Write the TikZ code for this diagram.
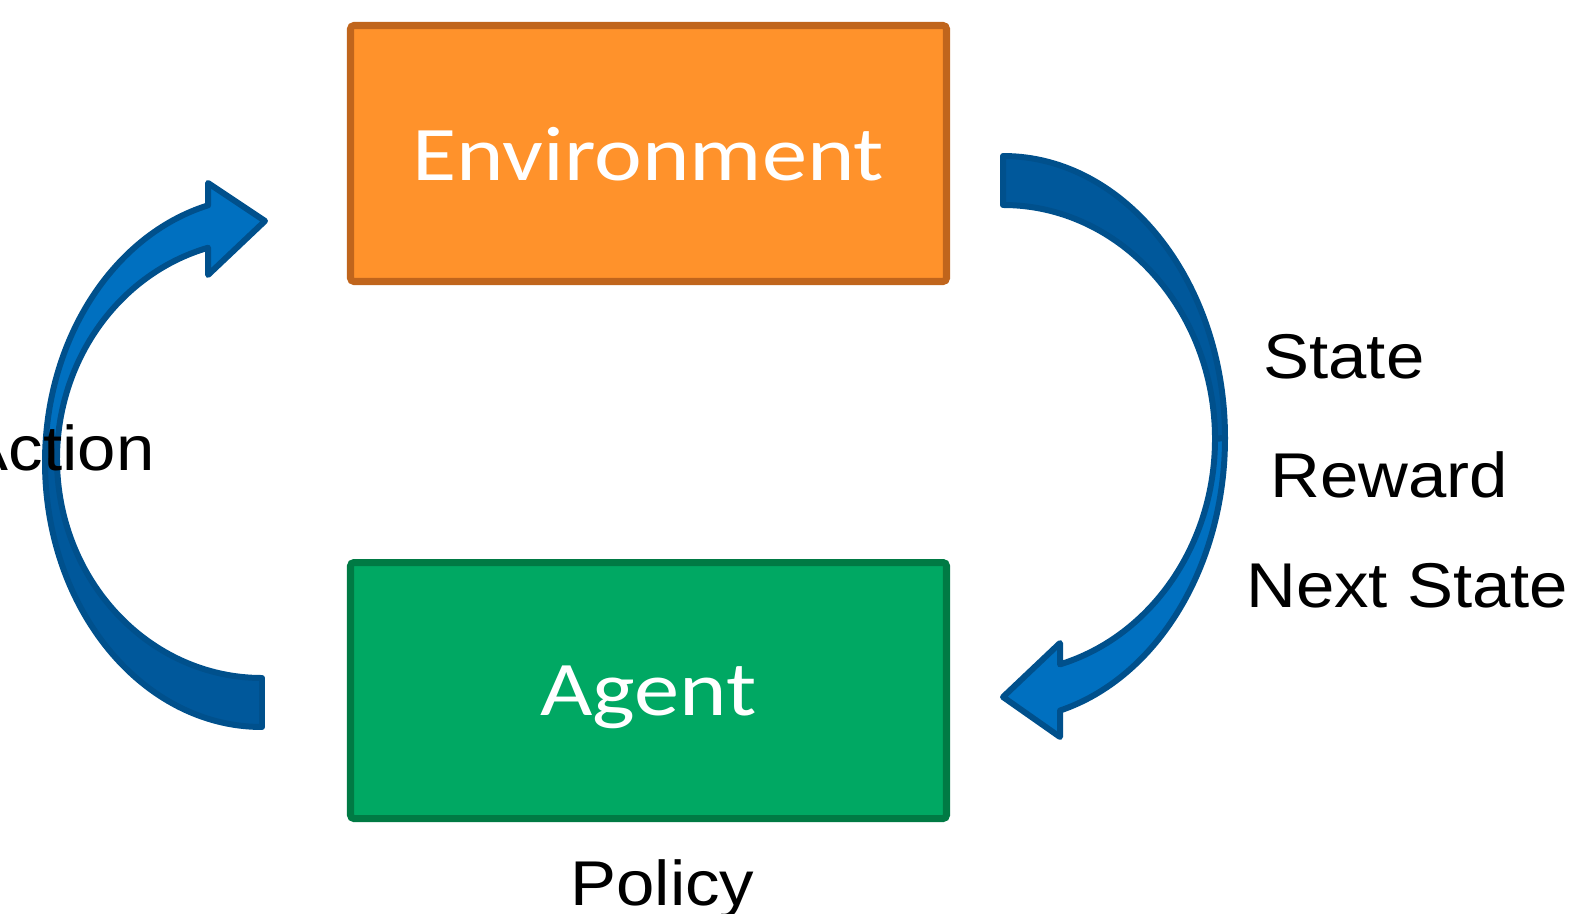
\documentclass[tikz,border=0pt]{standalone}
\usepackage{fontspec}
\newfontfamily\boxfont[FakeStretch=1.17]{Carlito}
\newfontfamily\lblfont[FakeStretch=1.09]{Liberation Sans}
\usetikzlibrary{positioning,calc}

\definecolor{envfill}{RGB}{255,146,43}
\definecolor{envline}{RGB}{192,101,28}
\definecolor{agtfill}{RGB}{0,168,99}
\definecolor{agtline}{RGB}{0,122,68}
\definecolor{bandfront}{RGB}{0,112,192}
\definecolor{bandback}{RGB}{0,88,155}
\definecolor{bandline}{RGB}{0,80,140}

\tikzset{
  box/.style={rectangle, rounded corners=2pt, line width=4pt, minimum width=11.92cm, minimum height=5.12cm, text=white, text depth=0pt, font=\boxfont\fontsize{44}{50}\selectfont},
  envbox/.style={box, draw=envline, fill=envfill},
  agtbox/.style={box, draw=agtline, fill=agtfill},
  lbl/.style={font=\lblfont\fontsize{36}{40}\selectfont, inner sep=0pt},
  backband/.style={fill=bandback, draw=bandline, line width=3.4pt, line join=round},
  frontband/.style={fill=bandfront, draw=bandline, line width=3.4pt, line join=round}
}

\begin{document}
\begin{tikzpicture}
    \useasboundingbox (0,0) rectangle (31.44,18.26);

    % Boxes {env, agent}
    \node [envbox] (env)                      at (12.97,15.19) {Environment};
    \node [agtbox] (agent) [below=5.48cm of env]              {Agent};

    % Action arrow (left)
    \coordinate (actO) at (5.24,9.02);
    \coordinate (actI) at (5.24,9.08);
    \draw [backband] ($(actO)+(270:4.34cm and 5.30cm)$)
        arc [start angle=270, end angle=180, x radius=4.34cm, y radius=5.30cm]
        -- ($(actI)+(180:4.10cm and 4.38cm)$)
        arc [start angle=180, end angle=270, x radius=4.10cm, y radius=4.38cm] -- cycle;
    \draw [frontband] ($(actO)+(180:4.34cm and 5.30cm)$)
        arc [start angle=180, end angle=104.4, x radius=4.34cm, y radius=5.30cm]
        -- (4.16,14.60) -- (5.30,13.84) -- (4.16,12.76)
        -- ($(actI)+(105.25:4.10cm and 4.38cm)$)
        arc [start angle=105.25, end angle=180, x radius=4.10cm, y radius=4.38cm] -- cycle;

    % Observation arrow (right)
    \coordinate (obsO) at (20.06,9.50);
    \coordinate (obsI) at (20.06,9.48);
    \draw [backband] ($(obsO)+(90:4.44cm and 5.64cm)$)
        arc [start angle=90, end angle=0, x radius=4.44cm, y radius=5.64cm]
        -- ($(obsI)+(0:4.24cm and 4.68cm)$)
        arc [start angle=0, end angle=90, x radius=4.24cm, y radius=4.68cm] -- cycle;
    \draw [frontband] ($(obsO)+(0:4.44cm and 5.64cm)$)
        arc [start angle=0, end angle=-75.1, x radius=4.44cm, y radius=5.64cm]
        -- (21.20,3.52) -- (20.06,4.32) -- (21.20,5.40)
        -- ($(obsI)+(-74.4:4.24cm and 4.68cm)$)
        arc [start angle=-74.4, end angle=0, x radius=4.24cm, y radius=4.68cm] -- cycle;

    % Labels
    \node [lbl, anchor=base east] (action) at (3.10,8.86)  {Action};
    \node [lbl, anchor=base west] (state)  at (25.26,10.70) {State};
    \node [lbl, anchor=base west] (reward) at (25.40,8.32)  {Reward};
    \node [lbl, anchor=base west] (next)   at (24.92,6.12)  {Next State};
    \node [lbl, anchor=base west] (policy) at (11.40,0.16)  {Policy};

\end{tikzpicture}
\end{document}
